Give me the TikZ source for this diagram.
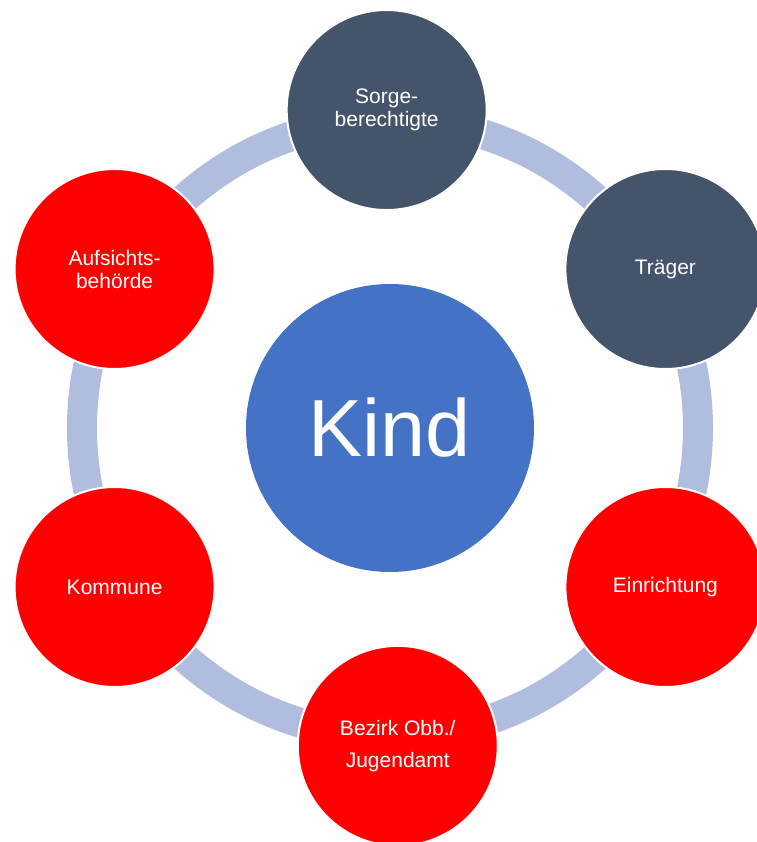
\documentclass[tikz,border=0pt]{standalone}
\usepackage{fontspec}
\setmainfont{Liberation Sans}
\definecolor{kindblue}{HTML}{4472C4}
\definecolor{slate}{HTML}{44546A}
\definecolor{ringblue}{HTML}{B0BDDF}
\definecolor{alarmred}{HTML}{FF0000}
\tikzset{
  member/.style={circle, draw=white, line width=2pt, minimum size=200pt,
    inner sep=0pt, text=white, align=center,
    font=\fontsize{21}{23}\selectfont},
  guardian/.style={member, fill=slate},
  authority/.style={member, fill=alarmred},
}
\begin{document}
\begin{tikzpicture}[x=1pt,y=1pt]
      \useasboundingbox (-390,-414) rectangle (366,428);
      \node[circle, fill=kindblue, minimum size=288pt, inner sep=0pt,
        text=white, font=\fontsize{81}{90}\selectfont] (kind) at (0,0) {Kind};
      \draw[ringblue, line width=30pt] (kind.center) circle[radius=308];
      \draw
        (90.6:318) node[guardian] (sorge){Sorge-\\berechtigte}
        (30:318) node[guardian] (traeger){Träger}
        (-30:318) node[authority] (einrichtung){Einrichtung}
        (-88.6:318) node[authority] (bezirk){Bezirk Obb./\\[9pt]Jugendamt}
        (210:318) node[authority] (kommune){Kommune}
        (150:318) node[authority] (aufsicht){Aufsichts-\\behörde};
    \end{tikzpicture}
\end{document}
